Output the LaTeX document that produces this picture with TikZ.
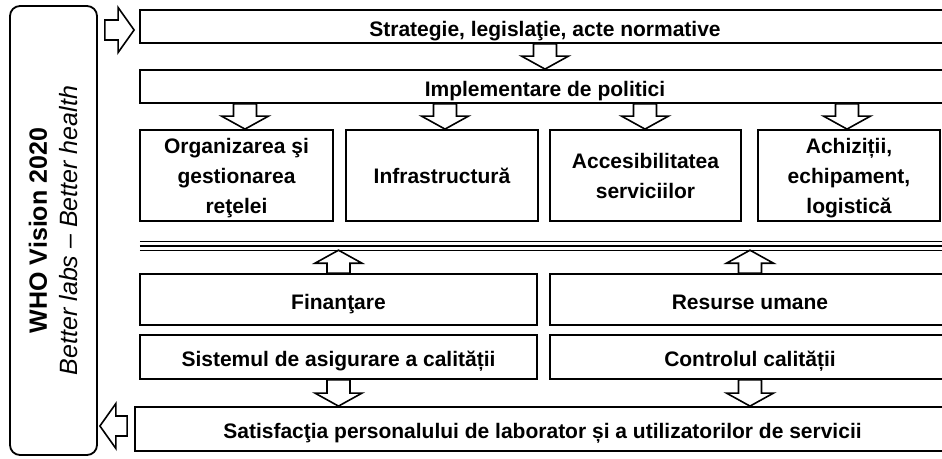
\documentclass[tikz,border=0pt]{standalone}
\usepackage{fontspec}
\setmainfont{Liberation Sans}
\usetikzlibrary{calc}

\tikzset{
    box/.style={draw, line width=1.8pt, inner sep=2pt, align=center,
        font=\bfseries\fontsize{21}{30}\selectfont},
    oneline/.style={box, text height=19pt, text depth=0pt},
    fat/.style={draw, line width=1.6pt, fill=white, line join=miter},
}

\newcommand\fatv[3]{%
    \coordinate (a) at (#1);
    \coordinate (b) at (#2);
    \draw[fat] ([shift={(-11.5,0)}]a) -- ([shift={(-11.5,-13*#3)}]b) -- ([shift={(-23.5,-13*#3)}]b) -- (b)
        -- ([shift={(23.5,-13*#3)}]b) -- ([shift={(11.5,-13*#3)}]b) -- ([shift={(11.5,0)}]a) -- cycle;}

\newcommand\fath[3]{%
    \coordinate (a) at (#1);
    \coordinate (b) at (#2);
    \draw[fat] ([shift={(0,-10)}]a) -- ([shift={(-16*#3,-10)}]b) -- ([shift={(-16*#3,-22.5)}]b) -- (b)
        -- ([shift={(-16*#3,22.5)}]b) -- ([shift={(-16*#3,10)}]b) -- ([shift={(0,10)}]a) -- cycle;}

\begin{document}
\begin{tikzpicture}[x=1pt, y=-1pt]
    \useasboundingbox (0,0) rectangle (942,458);

    \node[draw, line width=1.8pt, rounded corners=10pt, minimum width=87, minimum height=449] (who) at (53.5,230.5) {};
    \node[rotate=90, align=center, font=\fontsize{25}{31}\selectfont] (whotext) at (who.center)
        {\textbf{WHO Vision 2020}\\\textit{Better labs – Better health}};

    \node[oneline, minimum width=810, minimum height=33] (strat) at (545,26.5) {Strategie, legislaţie, acte normative};
    \node[oneline, minimum width=810, minimum height=33] (impl) at (545,86.5) {Implementare de politici};

    \foreach \n/\x/\w/\t in {org/236.5/193/{Organizarea şi\\gestionarea\\reţelei},
        infra/442/192/{Infrastructură}, acc/645.5/191/{Accesibilitatea\\serviciilor},
        ach/849/182/{Achiziții,\\echipament,\\logistică}}
    \node[box, text depth=-4pt, minimum width=\w, minimum height=91] (\n) at (\x,175.5) {\t};

    \node[minimum width=810, minimum height=8, inner sep=0] (sep) at (545,246) {};
    \draw[line width=1pt] (sep.north west) -- (sep.north east);
    \draw[line width=2.2pt] (sep.west) -- (sep.east);
    \draw[line width=1pt] (sep.south west) -- (sep.south east);

    \node[oneline, minimum width=397, minimum height=51] (fin) at (338.5,299.5) {Finanţare};
    \node[oneline, minimum width=400, minimum height=51] (res) at (750,299.5) {Resurse umane};
    \node[oneline, minimum width=397, minimum height=44] (sis) at (338.5,357) {Sistemul de asigurare a calității};
    \node[oneline, minimum width=400, minimum height=44] (ctl) at (750,357) {Controlul calității};
    \node[oneline, minimum width=815, minimum height=44] (sat) at (542.5,429)
        {Satisfacţia personalului de laborator și a utilizatorilor de servicii};

    \fath{$(who.east |- strat.west)+(7,3.5)$}{$(strat.west)+(-5,3.5)$}{1}
    \fatv{strat.south}{strat.south |- impl.north}{1}
    \foreach \b/\x in {org/245, infra/445, acc/645, ach/847}
        {\fatv{\x,0 |- impl.south}{\x,0 |- \b.north}{1}}

    \foreach \b in {fin, res}
        {\fatv{\b.north}{\b.north |- sep.south}{-1}}

    \foreach \b in {sis, ctl}
        {\fatv{\b.south}{\b.south |- sat.north}{1}}
    \fath{$(sat.west)+(-7,-3)$}{$(who.east |- sat.west)+(2,-3)$}{-1}
\end{tikzpicture}
\end{document}
